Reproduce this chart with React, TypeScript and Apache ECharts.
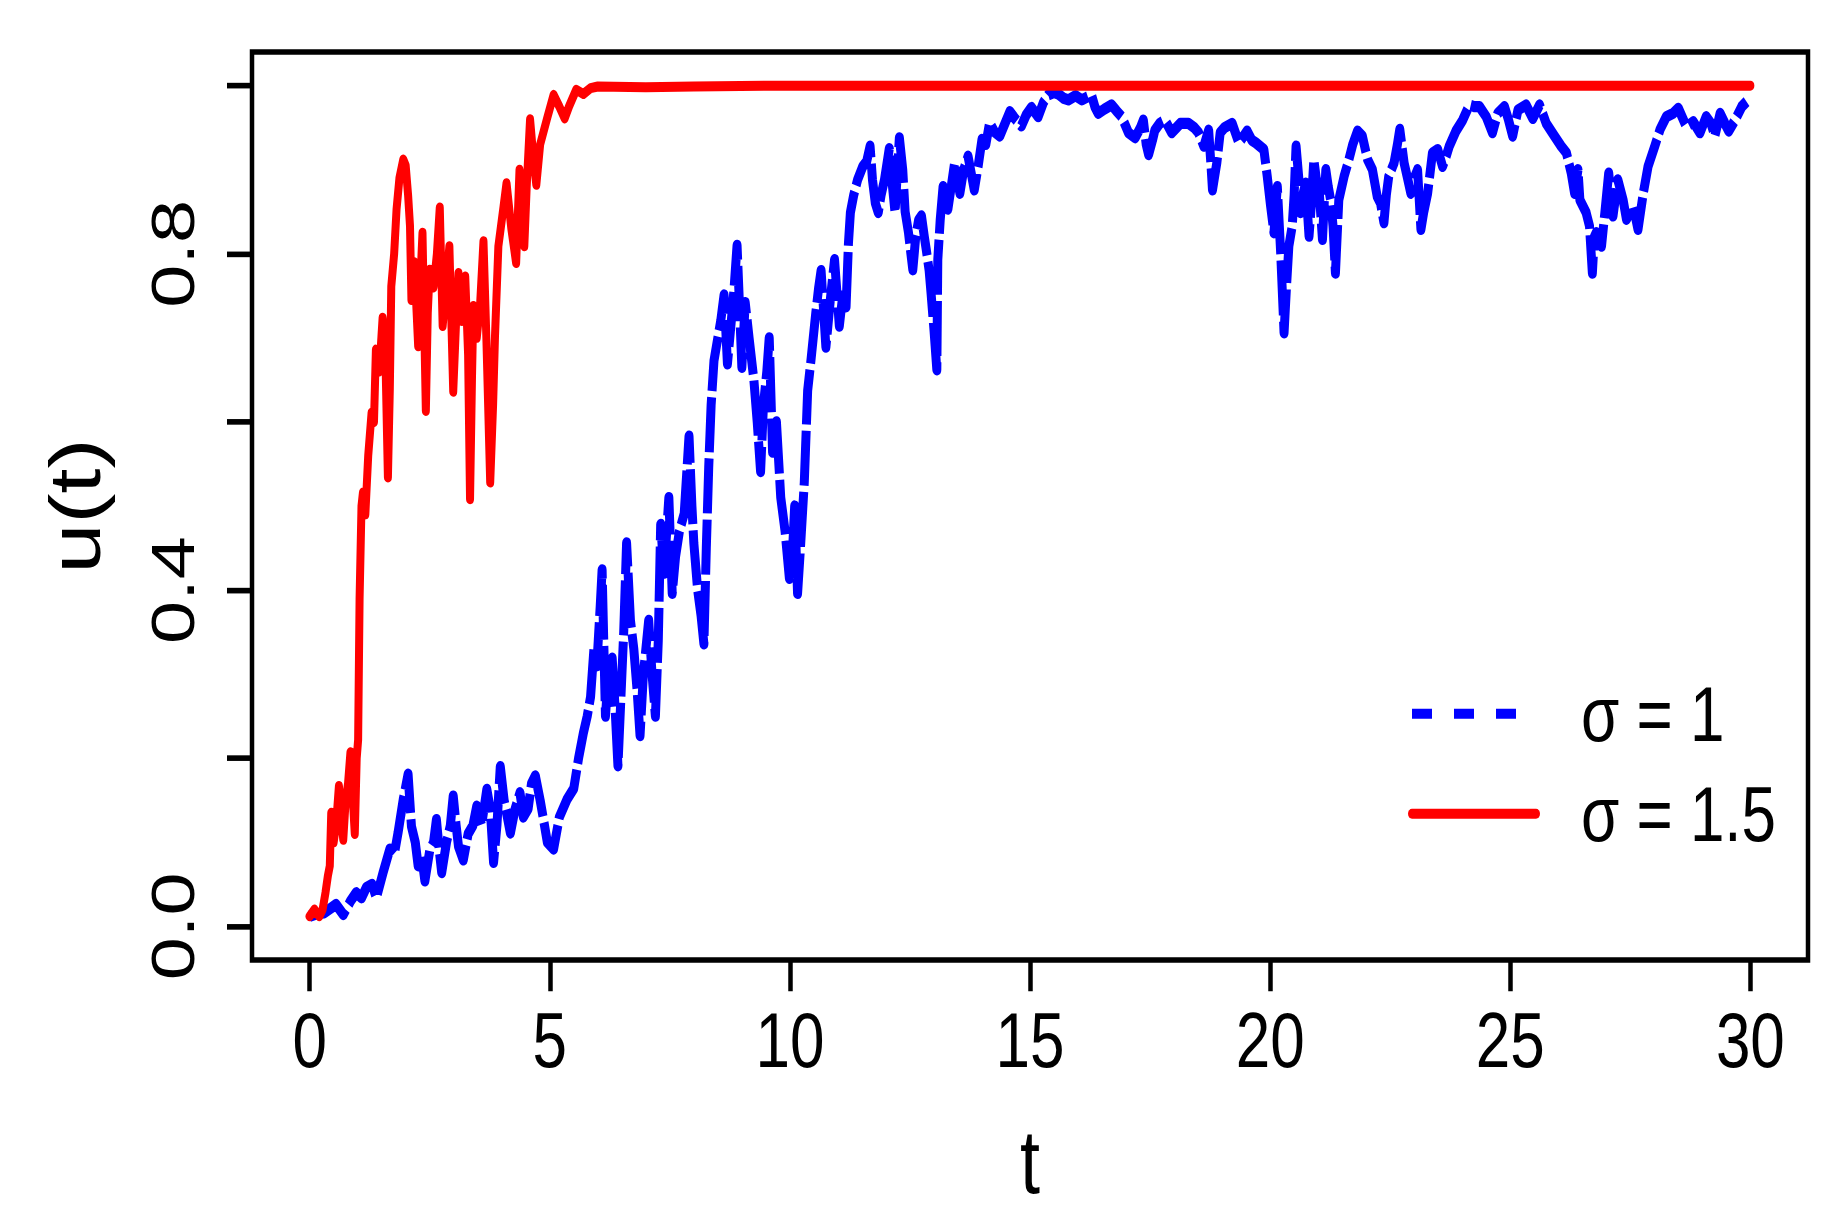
import React, { useEffect, useRef } from "react";
import * as echarts from "echarts";

// ---- data ----
const xTickValues = [0, 5, 10, 15, 20, 25, 30];
const yTickValues = [0, 0.2, 0.4, 0.6, 0.8, 1.0];
const yLabelValues = [0, 0.4, 0.8];
const legendNames = ["σ = 1", "σ = 1.5"];

// sigma = 1 (blue, dashed)
const sigma1: [number, number][] = [
  [0.0, 0.012], [0.15, 0.015], [0.3, 0.016], [0.45, 0.022], [0.55, 0.026], [0.7, 0.014],
  [0.85, 0.03], [0.97, 0.04], [1.08, 0.034], [1.18, 0.046], [1.3, 0.05], [1.39, 0.034],
  [1.53, 0.064], [1.67, 0.092], [1.76, 0.085], [1.84, 0.111], [1.95, 0.151], [2.05, 0.181],
  [2.12, 0.119], [2.2, 0.1], [2.26, 0.072], [2.33, 0.085], [2.4, 0.054], [2.5, 0.09],
  [2.58, 0.1], [2.64, 0.127], [2.7, 0.09], [2.75, 0.064], [2.85, 0.1], [2.93, 0.12],
  [2.99, 0.155], [3.05, 0.12], [3.1, 0.095], [3.2, 0.079], [3.3, 0.11], [3.4, 0.12],
  [3.48, 0.143], [3.58, 0.12], [3.69, 0.163], [3.76, 0.14], [3.83, 0.076], [3.9, 0.12],
  [3.97, 0.19], [4.05, 0.15], [4.18, 0.111], [4.28, 0.14], [4.38, 0.159], [4.45, 0.13],
  [4.55, 0.14], [4.62, 0.17], [4.7, 0.179], [4.8, 0.15], [4.87, 0.127], [4.95, 0.1],
  [5.08, 0.092], [5.2, 0.13], [5.36, 0.151], [5.5, 0.164], [5.6, 0.2], [5.7, 0.23],
  [5.78, 0.25], [5.85, 0.273], [5.92, 0.33], [5.98, 0.31], [6.05, 0.38], [6.09, 0.424],
  [6.12, 0.35], [6.16, 0.25], [6.22, 0.3], [6.3, 0.319], [6.36, 0.26], [6.42, 0.191],
  [6.48, 0.27], [6.54, 0.35], [6.6, 0.456], [6.68, 0.364], [6.75, 0.33], [6.82, 0.28],
  [6.88, 0.227], [6.95, 0.3], [7.06, 0.364], [7.13, 0.3], [7.2, 0.25], [7.26, 0.34],
  [7.31, 0.478], [7.38, 0.42], [7.48, 0.51], [7.55, 0.396], [7.62, 0.44], [7.7, 0.47],
  [7.8, 0.491], [7.9, 0.583], [7.96, 0.5], [8.0, 0.456], [8.08, 0.4], [8.15, 0.37],
  [8.21, 0.336], [8.26, 0.45], [8.31, 0.546], [8.36, 0.62], [8.42, 0.673], [8.5, 0.7],
  [8.56, 0.72], [8.63, 0.751], [8.7, 0.669], [8.78, 0.72], [8.84, 0.76], [8.9, 0.81],
  [8.95, 0.74], [9.0, 0.665], [9.07, 0.742], [9.15, 0.7], [9.25, 0.65], [9.32, 0.6],
  [9.39, 0.541], [9.45, 0.62], [9.52, 0.66], [9.57, 0.7], [9.64, 0.564], [9.72, 0.6],
  [9.81, 0.51], [9.9, 0.47], [9.99, 0.414], [10.05, 0.44], [10.1, 0.5], [10.16, 0.396],
  [10.22, 0.45], [10.3, 0.528], [10.37, 0.637], [10.44, 0.674], [10.54, 0.73], [10.6, 0.76],
  [10.65, 0.78], [10.75, 0.689], [10.85, 0.75], [10.93, 0.793], [11.03, 0.714], [11.1, 0.75],
  [11.17, 0.737], [11.22, 0.813], [11.26, 0.849], [11.33, 0.87], [11.41, 0.888], [11.52, 0.904],
  [11.6, 0.91], [11.67, 0.928], [11.72, 0.888], [11.78, 0.86], [11.84, 0.849], [11.9, 0.87],
  [11.97, 0.888], [12.07, 0.925], [12.12, 0.89], [12.19, 0.849], [12.24, 0.9], [12.28, 0.938],
  [12.35, 0.9], [12.4, 0.85], [12.47, 0.825], [12.52, 0.8], [12.56, 0.781], [12.62, 0.82],
  [12.68, 0.84], [12.74, 0.845], [12.8, 0.82], [12.84, 0.805], [12.9, 0.78], [12.94, 0.753],
  [13.0, 0.71], [13.06, 0.662], [13.08, 0.793], [13.13, 0.84], [13.19, 0.88], [13.29, 0.853],
  [13.36, 0.88], [13.43, 0.908], [13.54, 0.872], [13.62, 0.9], [13.71, 0.916], [13.84, 0.876],
  [13.92, 0.904], [14.0, 0.936], [14.08, 0.93], [14.16, 0.956], [14.26, 0.945], [14.37, 0.94],
  [14.48, 0.955], [14.58, 0.969], [14.7, 0.96], [14.82, 0.952], [14.92, 0.965], [15.03, 0.974],
  [15.17, 0.963], [15.28, 0.98], [15.38, 0.989], [15.5, 0.992], [15.59, 0.99], [15.7, 0.985],
  [15.8, 0.983], [15.95, 0.988], [16.08, 0.983], [16.18, 0.986], [16.28, 0.989], [16.35, 0.975],
  [16.42, 0.967], [16.55, 0.972], [16.7, 0.977], [16.8, 0.97], [16.91, 0.963], [17.05, 0.944],
  [17.19, 0.938], [17.3, 0.95], [17.36, 0.959], [17.42, 0.93], [17.47, 0.918], [17.55, 0.935],
  [17.6, 0.947], [17.7, 0.955], [17.81, 0.959], [17.95, 0.944], [18.05, 0.95], [18.13, 0.955],
  [18.3, 0.955], [18.42, 0.95], [18.51, 0.944], [18.62, 0.928], [18.72, 0.947], [18.77, 0.904],
  [18.8, 0.876], [18.89, 0.908], [18.96, 0.944], [19.05, 0.95], [19.21, 0.955], [19.35, 0.932],
  [19.45, 0.94], [19.52, 0.946], [19.62, 0.935], [19.7, 0.932], [19.87, 0.924], [19.94, 0.892],
  [20.01, 0.857], [20.08, 0.825], [20.15, 0.88], [20.22, 0.801], [20.29, 0.706], [20.34, 0.76],
  [20.39, 0.809], [20.46, 0.833], [20.5, 0.87], [20.54, 0.928], [20.6, 0.888], [20.63, 0.849],
  [20.68, 0.87], [20.74, 0.884], [20.81, 0.821], [20.86, 0.86], [20.91, 0.912], [20.96, 0.89],
  [21.02, 0.876], [21.09, 0.817], [21.16, 0.9], [21.21, 0.88], [21.26, 0.864], [21.31, 0.833],
  [21.36, 0.777], [21.43, 0.864], [21.54, 0.892], [21.64, 0.912], [21.72, 0.93], [21.82, 0.946],
  [21.92, 0.94], [22.03, 0.912], [22.13, 0.9], [22.23, 0.868], [22.3, 0.86], [22.37, 0.837],
  [22.42, 0.87], [22.47, 0.892], [22.58, 0.908], [22.65, 0.93], [22.7, 0.948], [22.79, 0.908],
  [22.86, 0.89], [22.93, 0.872], [23.0, 0.89], [23.07, 0.9], [23.14, 0.829], [23.2, 0.85],
  [23.28, 0.872], [23.38, 0.92], [23.49, 0.924], [23.59, 0.904], [23.66, 0.915], [23.73, 0.928],
  [23.87, 0.946], [24.01, 0.959], [24.15, 0.977], [24.25, 0.975], [24.36, 0.975], [24.5, 0.963],
  [24.63, 0.944], [24.74, 0.967], [24.88, 0.975], [24.96, 0.96], [25.05, 0.94], [25.16, 0.971],
  [25.33, 0.977], [25.47, 0.961], [25.61, 0.977], [25.75, 0.955], [25.92, 0.94], [26.06, 0.928],
  [26.17, 0.92], [26.27, 0.896], [26.34, 0.872], [26.41, 0.9], [26.45, 0.864], [26.58, 0.849],
  [26.65, 0.833], [26.71, 0.777], [26.75, 0.82], [26.79, 0.825], [26.9, 0.809], [26.97, 0.849],
  [27.05, 0.896], [27.14, 0.845], [27.24, 0.888], [27.35, 0.864], [27.42, 0.841], [27.5, 0.85],
  [27.56, 0.857], [27.66, 0.829], [27.77, 0.872], [27.87, 0.904], [28.01, 0.928], [28.12, 0.948],
  [28.25, 0.963], [28.39, 0.967], [28.5, 0.973], [28.6, 0.96], [28.67, 0.951], [28.81, 0.957],
  [28.95, 0.944], [29.08, 0.963], [29.18, 0.955], [29.26, 0.94], [29.37, 0.967], [29.47, 0.955],
  [29.55, 0.946], [29.68, 0.959], [29.82, 0.975], [29.92, 0.981],
];

// sigma = 1.5 (red, solid)
const sigma15: [number, number][] = [
  [0.0, 0.012], [0.1, 0.02], [0.2, 0.012], [0.27, 0.02], [0.33, 0.04], [0.38, 0.06],
  [0.42, 0.072], [0.45, 0.135], [0.5, 0.1], [0.55, 0.12], [0.61, 0.167], [0.66, 0.13],
  [0.7, 0.103], [0.75, 0.15], [0.8, 0.17], [0.85, 0.207], [0.9, 0.15], [0.94, 0.11],
  [0.98, 0.2], [1.01, 0.222], [1.04, 0.389], [1.08, 0.5], [1.11, 0.516], [1.16, 0.49],
  [1.22, 0.56], [1.29, 0.611], [1.34, 0.6], [1.38, 0.686], [1.45, 0.66], [1.52, 0.724],
  [1.57, 0.7], [1.63, 0.534], [1.67, 0.64], [1.7, 0.761], [1.76, 0.8], [1.81, 0.853],
  [1.87, 0.89], [1.95, 0.912], [2.0, 0.905], [2.05, 0.87], [2.09, 0.833], [2.12, 0.745],
  [2.18, 0.79], [2.26, 0.69], [2.3, 0.76], [2.35, 0.825], [2.42, 0.613], [2.46, 0.73],
  [2.5, 0.781], [2.58, 0.76], [2.65, 0.8], [2.71, 0.855], [2.77, 0.714], [2.84, 0.76],
  [2.91, 0.809], [2.99, 0.636], [3.05, 0.72], [3.1, 0.777], [3.17, 0.72], [3.24, 0.773],
  [3.3, 0.68], [3.34, 0.508], [3.38, 0.65], [3.41, 0.738], [3.48, 0.7], [3.55, 0.74],
  [3.62, 0.815], [3.68, 0.7], [3.76, 0.528], [3.82, 0.62], [3.86, 0.702], [3.93, 0.809],
  [4.04, 0.857], [4.1, 0.884], [4.2, 0.83], [4.3, 0.789], [4.37, 0.9], [4.42, 0.86],
  [4.47, 0.809], [4.52, 0.88], [4.59, 0.96], [4.65, 0.92], [4.72, 0.882], [4.8, 0.93],
  [4.94, 0.96], [5.08, 0.989], [5.2, 0.975], [5.31, 0.961], [5.4, 0.975], [5.55, 0.995],
  [5.7, 0.99], [5.85, 0.997], [6.0, 0.999], [7.0, 0.998], [8.0, 0.999], [10.0, 1.0],
  [15.0, 1.0], [20.0, 1.0], [25.0, 1.0], [30.0, 1.0],
];

// ---- layout (chart is drawn in an unstretched frame, then stretched vertically like the reference) ----
const STRETCH = 1.25;
const WIDTH = 1843;
const HEIGHT = 985;
const FONT = "'Liberation Sans', Arial, Helvetica, sans-serif";
const LINE_W = 8;
const BLUE_W = 9;

export default function App() {
  const ref = useRef<HTMLDivElement>(null);

  useEffect(() => {
    if (!ref.current) return;
    const chart = echarts.init(ref.current, null, { renderer: "svg" });
    chart.setOption({
      animation: false,
      backgroundColor: "#ffffff",
      grid: {
        left: 252,
        width: 1556,
        top: 41.6,
        height: 726.4,
        show: true,
        borderColor: "#000000",
        borderWidth: 4.5,
        backgroundColor: "transparent",
      },
      legend: {
        orient: "vertical",
        left: 1403,
        top: 535,
        itemWidth: 124,
        itemHeight: 2,
        itemGap: 18,
        selectedMode: false,
        itemStyle: { opacity: 0, borderWidth: 0 },
        data: [
          {
            name: legendNames[0],
            itemStyle: { opacity: 0, borderWidth: 0 },
            lineStyle: { type: [20, 22], width: LINE_W, color: "#0000ff", cap: "butt" },
          },
          {
            name: legendNames[1],
            itemStyle: { opacity: 0, borderWidth: 0 },
            lineStyle: { type: "solid", width: LINE_W, color: "#ff0000" },
          },
        ],
        textStyle: {
          fontFamily: FONT,
          fontSize: 62,
          lineHeight: 62,
          color: "#000000",
          padding: [0, 0, 0, 40],
        },
      },
      xAxis: {
        type: "value",
        min: -1.2,
        max: 31.2,
        name: "t",
        nameLocation: "middle",
        nameGap: 125,
        nameTextStyle: { fontFamily: FONT, fontSize: 72, color: "#000000" },
        axisLine: { show: false, onZero: false },
        splitLine: { show: false },
        axisTick: {
          show: true,
          inside: false,
          length: 25,
          customValues: xTickValues,
          lineStyle: { color: "#000000", width: 4.5 },
        },
        axisLabel: {
          customValues: xTickValues,
          margin: 33,
          fontFamily: FONT,
          fontSize: 62,
          color: "#000000",
          formatter: (v: number) => String(v),
        },
      },
      yAxis: {
        type: "value",
        min: -0.04,
        max: 1.04,
        name: "u(t)",
        nameLocation: "middle",
        nameRotate: 90,
        nameGap: 141,
        nameTextStyle: { fontFamily: FONT, fontSize: 72, color: "#000000" },
        axisLine: { show: false, onZero: false },
        splitLine: { show: false },
        axisTick: {
          show: true,
          inside: false,
          length: 25,
          customValues: yTickValues,
          lineStyle: { color: "#000000", width: 4.5 },
        },
        axisLabel: {
          customValues: yLabelValues,
          rotate: 90,
          margin: 49,
          fontFamily: FONT,
          fontSize: 62,
          color: "#000000",
          formatter: (v: number) => v.toFixed(1),
        },
      },
      series: [
        {
          name: legendNames[0],
          type: "line",
          data: sigma1,
          symbol: "none",
          showSymbol: false,
          color: "#0000ff",
          lineStyle: { color: "#0000ff", width: BLUE_W, type: [44, 5], join: "round" },
          emphasis: { disabled: true },
          z: 2,
        },
        {
          name: legendNames[1],
          type: "line",
          data: sigma15,
          symbol: "none",
          showSymbol: false,
          color: "#ff0000",
          lineStyle: { color: "#ff0000", width: LINE_W, type: "solid", join: "round", cap: "round" },
          emphasis: { disabled: true },
          z: 3,
        },
      ],
    });
    return () => chart.dispose();
  }, []);

  return (
    <div
      ref={ref}
      style={{
        position: "absolute",
        left: 0,
        top: 0,
        width: WIDTH,
        height: HEIGHT,
        transform: `scaleY(${STRETCH})`,
        transformOrigin: "0 0",
        background: "#ffffff",
      }}
    />
  );
}
